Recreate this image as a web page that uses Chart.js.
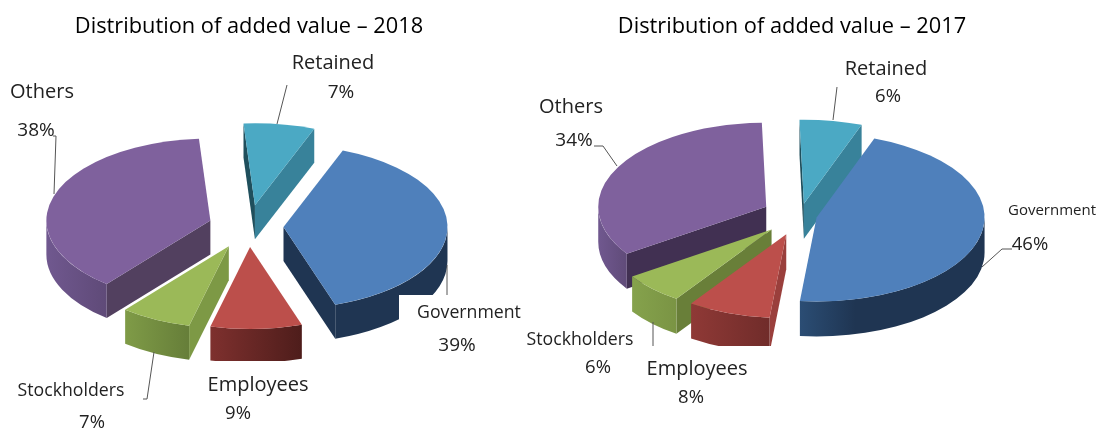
<!DOCTYPE html>
<html>
<head>
<meta charset="utf-8">
<style>
  html, body { margin: 0; padding: 0; background: #fff; }
  body { width: 1099px; height: 428px; position: relative; overflow: hidden; }
  canvas { position: absolute; top: 0; }
  #pie2018 { left: 0; }
  #pie2017 { left: 500px; }
</style>
<script src="https://cdn.jsdelivr.net/npm/chart.js@4/dist/chart.umd.min.js"></script>
</head>
<body>
<canvas id="pie2018" width="530" height="428"></canvas>
<canvas id="pie2017" width="599" height="428"></canvas>
<script>
// Shares of added value, per recipient
const categories = ['Retained', 'Government', 'Employees', 'Stockholders', 'Others'];
const values2018 = [7, 39, 9, 7, 38];
const values2017 = [6, 46, 8, 6, 34];

// Face colours of the slices
const topColors = ['#4BA9C4', '#4F80BB', '#BC4F4B', '#9BB958', '#7F619D'];

// Rim gradients (left to right) and flat radial-wall colours
const rim2018 = [['#38829A', '#38829A'], ['#1F3552', '#1F3552'], ['#7E302E', '#4E1D1B'], ['#7F9B47', '#667E39'], ['#70588F', '#5F4A78']];
const rim2017 = [['#38829A', '#38829A'], ['#2B4D74', '#1F3552'], ['#8F3936', '#702C2A'], ['#85A24C', '#7A9444'], ['#70588F', '#604B79']];
const wallStart2018 = ['#1F4F5C', '#1F3552', '#6E2B29', '#7D9945', '#52405F'];
const wallEnd2018 = ['#38829A', '#1F3552', '#6E2B29', '#7D9945', '#52405F'];
const wallStart2017 = ['#1F4F5C', '#1F3552', '#9A3F3C', '#697F39', '#413052'];
const wallEnd2017 = ['#38829A', '#1F3552', '#6E2B29', '#697F39', '#413052'];

// Pull-out distance of each slice
const explode2018 = [43, 35, 41, 44, 40];
const explode2017 = [24, 17, 40, 40, 38];

// Solid pie: reads the arc geometry computed by the doughnut controller and
// extrudes it into a tilted slab, painting slices from back to front.
class Pie3DController extends Chart.PieController {
  static id = 'pie3d';
  draw() {
    const ctx = this.chart.ctx;
    const ds = this.getDataset();
    const arcs = this._cachedMeta.data;
    const midOf = a => (a.startAngle + a.endAngle) / 2;
    const order = arcs.map((_, i) => i).sort((p, q) => Math.sin(midOf(arcs[p])) - Math.sin(midOf(arcs[q])));
    order.forEach(i => this.drawSlice(ctx, arcs[i], i, ds));
  }
  drawSlice(ctx, arc, i, ds) {
    const { startAngle: a0, endAngle: a1, outerRadius: r } = arc;
    const k = ds.tilt, h = ds.depth, mid = (a0 + a1) / 2;
    const cx = arc.x + ds.explode[i] * Math.cos(mid);
    const cy = arc.y + ds.explode[i] * Math.sin(mid) * k;
    const pt = a => [cx + r * Math.cos(a), cy + r * k * Math.sin(a)];

    const wall = (a, color) => {
      const p = pt(a);
      ctx.beginPath();
      ctx.moveTo(cx, cy);
      ctx.lineTo(p[0], p[1]);
      ctx.lineTo(p[0], p[1] + h);
      ctx.lineTo(cx, cy + h);
      ctx.closePath();
      ctx.fillStyle = color;
      ctx.fill();
    };
    ctx.save();
    if (Math.cos(a0) < 0) wall(a0, ds.wallStart[i]);
    if (Math.cos(a1) > 0) wall(a1, ds.wallEnd[i]);

    // Rim: the portion of the outer edge that faces the viewer
    const twoPi = Math.PI * 2;
    const spans = [[0, Math.PI], [twoPi, twoPi + Math.PI], [-twoPi, -Math.PI]];
    spans.forEach(([lo, hi]) => {
      const s = Math.max(a0, lo), e = Math.min(a1, hi);
      if (e <= s) return;
      const ps = pt(s), pe = pt(e);
      const grad = ctx.createLinearGradient(Math.min(ps[0], pe[0]), 0, Math.max(ps[0], pe[0]), 0);
      grad.addColorStop(0, ds.rim[i][0]);
      grad.addColorStop(ds.rimStop ? ds.rimStop[i] : 1, ds.rim[i][1]);
      ctx.beginPath();
      ctx.ellipse(cx, cy, r, r * k, 0, s, e);
      ctx.lineTo(pe[0], pe[1] + h);
      ctx.ellipse(cx, cy + h, r, r * k, 0, e, s, true);
      ctx.closePath();
      ctx.fillStyle = grad;
      ctx.fill();
    });

    // Top face
    ctx.beginPath();
    ctx.moveTo(cx, cy);
    ctx.ellipse(cx, cy, r, r * k, 0, a0, a1);
    ctx.closePath();
    ctx.fillStyle = ds.backgroundColor[i];
    ctx.fill();
    ctx.restore();
  }
}
Chart.register(Pie3DController);

// Titles, white label backdrops, leader lines and slice captions
const captionPlugin = {
  id: 'captions',
  afterDatasetsDraw(chart, _args, opts) {
    const ctx = chart.ctx;
    const ox = opts.originX;
    ctx.save();
    ctx.fillStyle = '#fff';
    opts.masks.forEach(m => ctx.fillRect(m[0] - ox, m[1], m[2], m[3]));
    ctx.strokeStyle = '#555';
    ctx.lineWidth = 1;
    opts.leaders.forEach(line => {
      ctx.beginPath();
      line.forEach((p, n) => n ? ctx.lineTo(p[0] - ox, p[1]) : ctx.moveTo(p[0] - ox, p[1]));
      ctx.stroke();
    });
    ctx.textAlign = 'center';
    ctx.textBaseline = 'middle';
    ctx.fillStyle = '#000';
    ctx.font = opts.titleFont;
    ctx.fillText(opts.title, opts.titleAt[0] - ox, opts.titleAt[1]);
    ctx.fillStyle = '#222';
    const values = chart.data.datasets[0].data;
    chart.data.labels.forEach((name, i) => {
      const s = opts.spots[i];
      ctx.font = s.nameSize + 'px "Open Sans"';
      ctx.fillText(name, s.name[0] - ox, s.name[1]);
      ctx.font = s.valueSize + 'px "Open Sans"';
      ctx.fillText(values[i] + '%', s.value[0] - ox, s.value[1]);
    });
    ctx.restore();
  }
};

function makePie(id, cfg) {
  return new Chart(document.getElementById(id), {
    type: 'pie3d',
    data: {
      labels: categories,
      datasets: [{
        data: cfg.values,
        backgroundColor: topColors,
        borderWidth: 0,
        explode: cfg.explode,
        rim: cfg.rim,
        rimStop: cfg.rimStop,
        wallStart: cfg.wallStart,
        wallEnd: cfg.wallEnd,
        tilt: 0.5,
        depth: cfg.depth
      }]
    },
    plugins: [captionPlugin],
    options: {
      responsive: false,
      animation: false,
      rotation: cfg.rotation,
      radius: cfg.radius,
      layout: { padding: cfg.padding },
      plugins: {
        legend: { display: false },
        tooltip: { enabled: false },
        captions: cfg.captions
      }
    }
  });
}

makePie('pie2018', {
  values: values2018, explode: explode2018, rim: rim2018,
  rimStop: [1, 1, 1, 1, 1],
  wallStart: wallStart2018, wallEnd: wallEnd2018,
  rotation: -4, radius: 164, depth: 34,
  padding: { top: 25, right: 33, bottom: 0, left: 0 },
  captions: {
    originX: 0,
    title: 'Distribution of added value \u2013 2018',
    titleAt: [249, 27],
    titleFont: '21.8px "Open Sans"',
    masks: [[399, 295, 131, 50], [200, 361, 115, 20]],
    leaders: [
      [[287, 85], [277, 124]],
      [[53, 136], [56, 136], [54, 194]],
      [[447, 265], [447, 295]],
      [[154, 352], [147, 399], [143, 399]]
    ],
    spots: [
      { name: [333, 63], nameSize: 20, value: [341, 93], valueSize: 19 },
      { name: [469, 313], nameSize: 17.7, value: [457, 346], valueSize: 19 },
      { name: [258, 385], nameSize: 20, value: [238, 414], valueSize: 18.5 },
      { name: [71, 391], nameSize: 17.7, value: [92, 423], valueSize: 18.5 },
      { name: [42, 92], nameSize: 20, value: [36, 131], valueSize: 19 }
    ]
  }
});

makePie('pie2017', {
  values: values2017, explode: explode2017, rim: rim2017,
  rimStop: [1, 0.3, 1, 1, 1],
  wallStart: wallStart2017, wallEnd: wallEnd2017,
  rotation: -1.5, radius: 168, depth: 35,
  padding: { top: 3, right: 0, bottom: 0, left: 1 },
  captions: {
    originX: 500,
    title: 'Distribution of added value \u2013 2017',
    titleAt: [792, 27],
    titleFont: '21.8px "Open Sans"',
    masks: [[640, 346, 131, 14]],
    leaders: [
      [[837, 87], [833, 120]],
      [[594, 146], [603, 146], [617, 166]],
      [[1012, 249], [1002, 249], [982, 267]],
      [[653, 322], [653, 346]]
    ],
    spots: [
      { name: [886, 69], nameSize: 20, value: [888, 97], valueSize: 18.5 },
      { name: [1052, 211], nameSize: 15, value: [1030, 245], valueSize: 18.5 },
      { name: [697, 369], nameSize: 20, value: [691, 398], valueSize: 18.5 },
      { name: [580, 340], nameSize: 17.7, value: [598, 368], valueSize: 18.5 },
      { name: [571, 107], nameSize: 20, value: [574, 141], valueSize: 19 }
    ]
  }
});
</script>
</body>
</html>
